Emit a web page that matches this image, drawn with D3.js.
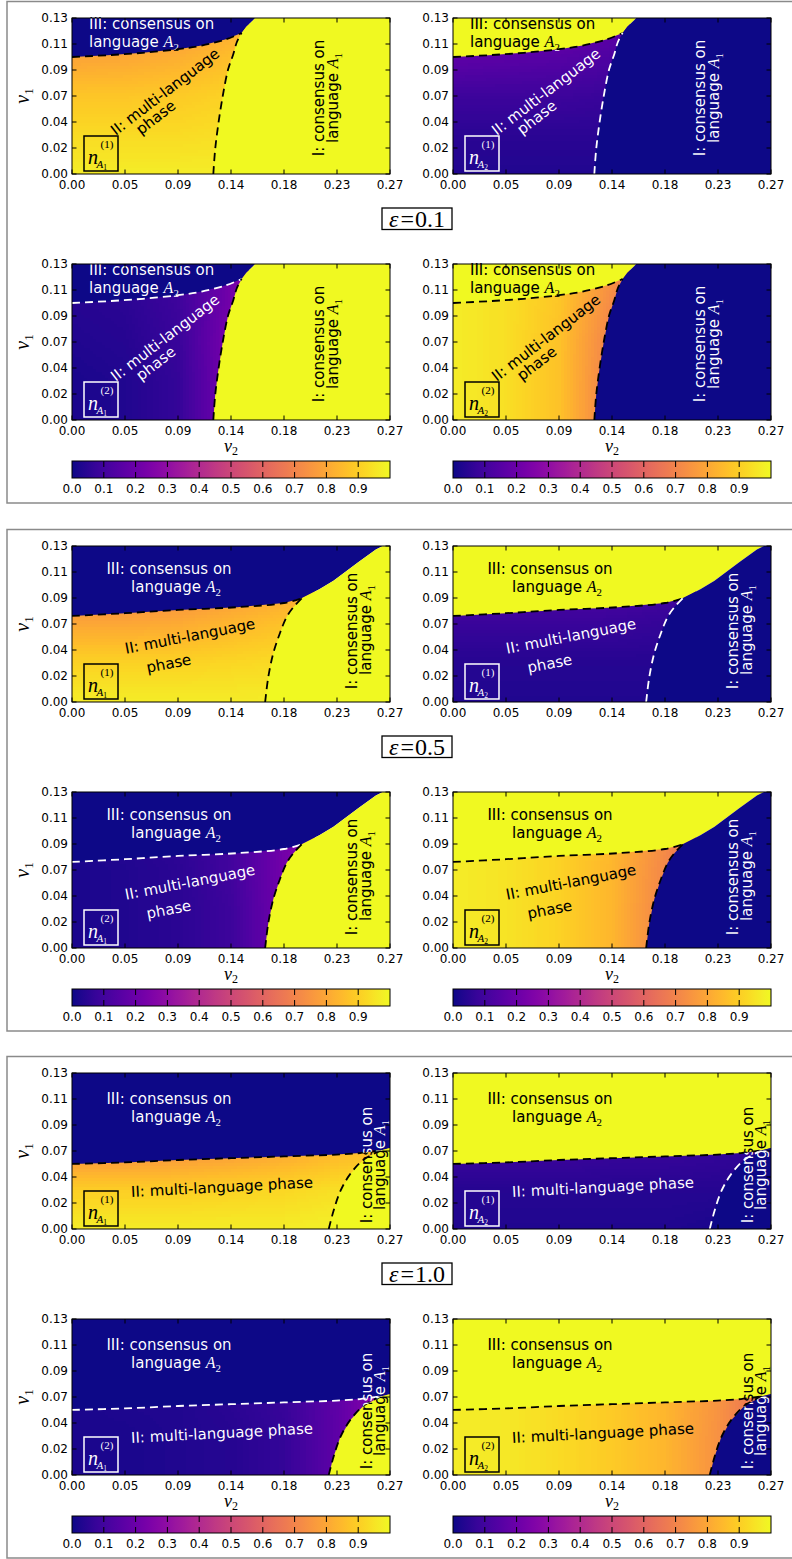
<!DOCTYPE html>
<html>
<head>
<meta charset="utf-8">
<script src="https://cdn.jsdelivr.net/npm/d3@7/dist/d3.min.js"></script>
<style>
html,body{margin:0;padding:0;background:#fff;}
svg{display:block;}
</style>
</head>
<body>
<svg id="chart" width="792" height="1559"></svg>
<script>
// ================= DATA =================
const NU2_MAX = 0.27, NU1_MAX = 0.13;
const xTickLabels = ["0.00","0.05","0.09","0.14","0.18","0.23","0.27"];
const yTickLabels = ["0.00","0.02","0.04","0.07","0.09","0.11","0.13"];
const cbTickLabels = ["0.0","0.1","0.2","0.3","0.4","0.5","0.6","0.7","0.8","0.9"];
const epsilonLabels = ["0.1","0.5","1.0"];

// sampling grid of the phase-II field (nu2 columns, nu1 rows)
const gridNu2 = [0, 0.045, 0.09, 0.135, 0.18, 0.225, 0.27];
const gridNu1 = [0, 0.0325, 0.065, 0.0975, 0.13];

// phase boundaries [nu2, nu1]: II/III, I/II (from bottom to triple point), I/III
const b23_e01 = [[0,0.0975],[0.03,0.099],[0.06,0.101],[0.09,0.104],[0.11,0.107],[0.13,0.112],[0.144,0.1175]];
const b12_e01 = [[0.12,0],[0.1215,0.02],[0.124,0.04],[0.128,0.065],[0.1325,0.087],[0.137,0.10],[0.140,0.11],[0.144,0.1175]];
const b13_e01 = [[0.144,0.1175],[0.148,0.1228],[0.154,0.1283],[0.1555,0.13]];

const b23_e05 = [[0,0.0717],[0.045,0.074],[0.09,0.0767],[0.14,0.079],[0.18,0.0825],[0.195,0.0864]];
const b12_e05 = [[0.164,0],[0.1667,0.021],[0.171,0.041],[0.1766,0.0575],[0.1823,0.071],[0.188,0.079],[0.195,0.0864]];
const b13_e05 = [[0.195,0.0864],[0.21,0.094],[0.222,0.101],[0.243,0.1165],[0.258,0.127],[0.264,0.13]];

const b23_e10 = [[0,0.0542],[0.045,0.0555],[0.09,0.0575],[0.135,0.059],[0.18,0.0605],[0.2245,0.062],[0.2445,0.0633],[0.262,0.0655]];
const b12_e10 = [[0.218,0],[0.2219,0.0145],[0.2276,0.031],[0.236,0.0455],[0.2473,0.0575],[0.262,0.0655]];
const b13_e10 = [[0.262,0.0655],[0.27,0.0675]];

// fraction values in phase II (rows: nu1 = gridNu1, cols: nu2 = gridNu2)
const nA1_1_e01 = [
  [0.97,0.97,0.97,0.97,0.97,0.97,0.97],
  [0.93,0.93,0.93,0.94,0.95,0.95,0.95],
  [0.88,0.88,0.89,0.91,0.92,0.92,0.92],
  [0.79,0.80,0.82,0.86,0.88,0.88,0.88],
  [0.70,0.71,0.74,0.80,0.84,0.84,0.84]];
const nA2_1_e01 = [
  [0.03,0.03,0.03,0.03,0.03,0.03,0.03],
  [0.05,0.05,0.05,0.05,0.05,0.05,0.05],
  [0.09,0.09,0.09,0.08,0.07,0.07,0.07],
  [0.17,0.16,0.15,0.13,0.11,0.11,0.11],
  [0.25,0.24,0.22,0.18,0.15,0.15,0.15]];
const nA1_2_e01 = [
  [0.02,0.03,0.07,0.24,0.40,0.40,0.40],
  [0.02,0.03,0.07,0.24,0.40,0.40,0.40],
  [0.03,0.04,0.08,0.24,0.40,0.40,0.40],
  [0.04,0.05,0.09,0.22,0.35,0.35,0.35],
  [0.05,0.06,0.10,0.22,0.35,0.35,0.35]];
const nA2_2_e01 = [
  [0.97,0.94,0.87,0.68,0.55,0.55,0.55],
  [0.97,0.94,0.87,0.68,0.55,0.55,0.55],
  [0.97,0.94,0.87,0.69,0.55,0.55,0.55],
  [0.97,0.94,0.88,0.72,0.60,0.60,0.60],
  [0.97,0.95,0.89,0.75,0.60,0.60,0.60]];

const nA1_1_e05 = [
  [0.97,0.97,0.97,0.97,0.97,0.97,0.97],
  [0.91,0.91,0.91,0.92,0.93,0.93,0.93],
  [0.80,0.80,0.81,0.84,0.87,0.87,0.87],
  [0.68,0.69,0.71,0.75,0.79,0.79,0.79],
  [0.58,0.59,0.61,0.66,0.72,0.72,0.72]];
const nA2_1_e05 = [
  [0.03,0.03,0.03,0.03,0.03,0.03,0.03],
  [0.04,0.04,0.04,0.04,0.04,0.04,0.04],
  [0.08,0.08,0.08,0.08,0.07,0.07,0.07],
  [0.15,0.15,0.14,0.13,0.11,0.11,0.11],
  [0.22,0.22,0.21,0.19,0.16,0.16,0.16]];
const nA1_2_e05 = [
  [0.02,0.03,0.05,0.09,0.22,0.35,0.45],
  [0.02,0.03,0.05,0.09,0.22,0.35,0.45],
  [0.02,0.03,0.05,0.10,0.22,0.35,0.45],
  [0.03,0.04,0.06,0.10,0.22,0.35,0.45],
  [0.03,0.04,0.06,0.10,0.22,0.35,0.45]];
const nA2_2_e05 = [
  [0.97,0.95,0.91,0.84,0.70,0.55,0.45],
  [0.97,0.95,0.91,0.84,0.70,0.55,0.45],
  [0.97,0.95,0.91,0.84,0.71,0.55,0.45],
  [0.97,0.95,0.91,0.85,0.73,0.55,0.45],
  [0.97,0.95,0.91,0.85,0.73,0.55,0.45]];

const nA1_1_e10 = [
  [0.97,0.97,0.97,0.97,0.97,0.98,0.98],
  [0.90,0.90,0.90,0.91,0.92,0.94,0.95],
  [0.74,0.74,0.75,0.77,0.80,0.84,0.87],
  [0.60,0.60,0.61,0.63,0.66,0.70,0.74],
  [0.50,0.50,0.51,0.53,0.56,0.60,0.65]];
const nA2_1_e10 = [
  [0.03,0.03,0.03,0.03,0.03,0.02,0.02],
  [0.04,0.04,0.04,0.04,0.04,0.04,0.04],
  [0.09,0.09,0.09,0.08,0.08,0.07,0.06],
  [0.15,0.15,0.14,0.13,0.12,0.11,0.10],
  [0.22,0.22,0.21,0.20,0.18,0.16,0.15]];
const nA1_2_e10 = [
  [0.02,0.02,0.03,0.04,0.07,0.17,0.30],
  [0.02,0.02,0.03,0.04,0.07,0.17,0.30],
  [0.02,0.03,0.03,0.05,0.08,0.17,0.30],
  [0.03,0.03,0.04,0.05,0.08,0.17,0.30],
  [0.03,0.03,0.04,0.05,0.08,0.17,0.30]];
const nA2_2_e10 = [
  [0.97,0.96,0.93,0.89,0.84,0.74,0.60],
  [0.97,0.96,0.93,0.89,0.84,0.74,0.60],
  [0.97,0.96,0.93,0.89,0.84,0.75,0.62],
  [0.97,0.96,0.93,0.89,0.84,0.75,0.62],
  [0.97,0.96,0.93,0.89,0.84,0.75,0.62]];

// consensus values of each panel quantity in phase I and phase III
const panelDefs = [
  {key:"A1_1", col:0, row:0, phaseI:1, phaseIII:0, sup:"(1)", sub:"1"},
  {key:"A2_1", col:1, row:0, phaseI:0, phaseIII:1, sup:"(1)", sub:"2"},
  {key:"A1_2", col:0, row:1, phaseI:1, phaseIII:0, sup:"(2)", sub:"1"},
  {key:"A2_2", col:1, row:1, phaseI:0, phaseIII:1, sup:"(2)", sub:"2"}
];

// label texts
const txtIII1 = [["III: consensus on"]];
const txtIII2 = [["language "],["A","i"],["2","sub"]];
const txtII1 = [["II: multi-language"]];
const txtII2 = [["phase"]];
const txtIIfull = [["II: multi-language phase"]];
const txtI1 = [["I: consensus on"]];
const txtI2 = [["language "],["A","i"],["1","sub"]];

// ================= LAYOUT =================
const PX = [72, 453], PY = [18, 264], PW = 318, PH = 156, CELL = 3;
const groupOffsets = [0, 528, 1055];
const labelLayout = [
  [ {t:txtIII1, x:17, y:11, rot:0, anchor:"start"},
    {t:txtIII2, x:17, y:28.5, rot:0, anchor:"start"},
    {t:txtII1, x:93, y:73.7, rot:-37.5, c:true},
    {t:txtII2, x:83.7, y:99.3, rot:-37.5, c:true},
    {t:txtI1, x:247, y:80, rot:-90, c:true},
    {t:txtI2, x:261, y:80, rot:-90, c:true} ],
  [ {t:txtIII1, x:97, y:28, rot:0, anchor:"middle"},
    {t:txtIII2, x:104, y:46, rot:0, anchor:"middle"},
    {t:txtII1, x:118, y:90, rot:-11, c:true},
    {t:txtII2, x:96.7, y:117.3, rot:-11, c:true},
    {t:txtI1, x:280, y:85, rot:-90, c:true},
    {t:txtI2, x:293.7, y:84, rot:-90, c:true} ],
  [ {t:txtIII1, x:97, y:31, rot:0, anchor:"middle"},
    {t:txtIII2, x:104, y:49, rot:0, anchor:"middle"},
    {t:txtIIfull, x:150, y:114, rot:-3, c:true},
    {t:txtI1, x:294.7, y:92, rot:-90, c:true},
    {t:txtI2, x:308, y:92, rot:-90, c:true} ]
];

const groups = [
  {eps:epsilonLabels[0], bnd:{b23:b23_e01, b12:b12_e01, b13:b13_e01},
   fields:{A1_1:nA1_1_e01, A2_1:nA2_1_e01, A1_2:nA1_2_e01, A2_2:nA2_2_e01}},
  {eps:epsilonLabels[1], bnd:{b23:b23_e05, b12:b12_e05, b13:b13_e05},
   fields:{A1_1:nA1_1_e05, A2_1:nA2_1_e05, A1_2:nA1_2_e05, A2_2:nA2_2_e05}},
  {eps:epsilonLabels[2], bnd:{b23:b23_e10, b12:b12_e10, b13:b13_e10},
   fields:{A1_1:nA1_1_e10, A2_1:nA2_1_e10, A1_2:nA1_2_e10, A2_2:nA2_2_e10}}
];

const SANS = "'DejaVu Sans', 'Noto Sans', sans-serif";
const SERIF = "'Liberation Serif', 'DejaVu Serif', serif";

// ================= SCALES =================
const x = d3.scaleLinear().domain([0, NU2_MAX]).range([0, PW]);
const y = d3.scaleLinear().domain([0, NU1_MAX]).range([PH, 0]);
const color = d3.scaleSequential(d3.interpolatePlasma).domain([0, 1]);
const xTicks = xTickLabels.map((l, i) => i * NU2_MAX / (xTickLabels.length - 1));
const yTicks = yTickLabels.map((l, i) => i * NU1_MAX / (yTickLabels.length - 1));
const gxi = d3.scaleLinear().domain(gridNu2).range(d3.range(gridNu2.length)).clamp(true);
const gyi = d3.scaleLinear().domain(gridNu1).range(d3.range(gridNu1.length)).clamp(true);

function sample(f, a, b) {
  const fi = gxi(a), fj = gyi(b);
  const i0 = Math.min(Math.floor(fi), gridNu2.length - 2);
  const j0 = Math.min(Math.floor(fj), gridNu1.length - 2);
  const tx = fi - i0, ty = fj - j0;
  const v0 = f[j0][i0] * (1 - tx) + f[j0][i0 + 1] * tx;
  const v1 = f[j0 + 1][i0] * (1 - tx) + f[j0 + 1][i0 + 1] * tx;
  return v0 * (1 - ty) + v1 * ty;
}

const svg = d3.select("#chart");
const rootDefs = svg.append("defs");
let uid = 0;

function rich(textSel, parts, size) {
  parts.forEach(p => {
    const ts = textSel.append("tspan").text(p[0]);
    if (p[1] === "i") ts.attr("font-family", SERIF).attr("font-style", "italic").attr("font-size", size * 1.07);
    if (p[1] === "sub") ts.attr("font-family", SERIF).attr("font-size", size * 0.72).attr("dy", size * 0.28);
  });
}

const polyLine = d3.line().x(d => x(d[0])).y(d => y(d[1]));
const curveLine = d3.line().x(d => x(d[0])).y(d => y(d[1])).curve(d3.curveCatmullRom.alpha(0.5));

function drawPanel(parent, G, gi, P) {
  const id = "p" + (uid++);
  const g = parent.append("g").attr("transform", `translate(${PX[P.col]},${PY[P.row]})`);
  const field = G.fields[P.key];
  const {b23, b12, b13} = G.bnd;
  const exit = b13[b13.length - 1];
  const topExit = exit[1] >= NU1_MAX - 1e-9;
  const polyIII = [[0, NU1_MAX], ...b23, ...b13.slice(1), ...(topExit ? [] : [[NU2_MAX, NU1_MAX]])];
  const polyI = [...b12, ...b13.slice(1), ...(topExit ? [[NU2_MAX, NU1_MAX], [NU2_MAX, 0]] : [[NU2_MAX, 0]])];
  const polyII = [[0, 0], ...b23, ...b12.slice(0, -1).reverse()];
  const poly = d => polyLine(d) + "Z";

  const defs = g.append("defs");
  defs.append("clipPath").attr("id", id + "c").append("rect").attr("width", PW).attr("height", PH);
  const L1 = P.phaseI > 0.5, L3 = P.phaseIII > 0.5, L2 = d3.mean(field.flat()) > 0.5;
  const regs = [{p: polyI, L: L1}, {p: polyII, L: L2}, {p: polyIII, L: L3}];

  // a black-over-light / white-over-dark paint for labels, aligned to the panel
  let pk = 0;
  function contrastPaint(tx, ty, rot) {
    const pid = id + "pt" + (pk++);
    const pat = defs.append("pattern").attr("id", pid).attr("patternUnits", "userSpaceOnUse")
      .attr("x", 0).attr("y", 0).attr("width", PW).attr("height", PH)
      .attr("patternTransform", `rotate(${-rot}) translate(${-tx},${-ty})`);
    pat.selectAll("path").data(regs).join("path").attr("d", r => poly(r.p))
      .attr("fill", r => r.L ? "black" : "white").attr("stroke", r => r.L ? "black" : "white").attr("stroke-width", 0.6);
    return `url(#${pid})`;
  }

  const plot = g.append("g").attr("clip-path", `url(#${id}c)`);
  // phase II field
  const xmax = d3.max(b12, d => d[0]) + 0.012;
  const ymax = d3.max([...b23, ...b12], d => d[1]) + 0.008;
  const cells = [];
  for (let px = 0; px < PW; px += CELL) {
    for (let py = 0; py < PH; py += CELL) {
      const a = x.invert(px + CELL / 2), b = y.invert(py + CELL / 2);
      if (a <= xmax && b <= ymax) cells.push({px, py, v: sample(field, a, b)});
    }
  }
  plot.append("g").attr("shape-rendering", "crispEdges").selectAll("rect").data(cells).join("rect")
    .attr("x", d => d.px).attr("y", d => d.py).attr("width", CELL).attr("height", CELL)
    .attr("fill", d => color(d.v));
  // consensus phases
  plot.append("path").attr("d", poly(polyIII)).attr("fill", color(P.phaseIII));
  plot.append("path").attr("d", poly(polyI)).attr("fill", color(P.phaseI));
  // dashed boundaries
  plot.append("path").attr("d", curveLine(b23)).attr("fill", "none")
    .attr("stroke", (!L2 && !L3) ? "white" : "black").attr("stroke-width", 1.8).attr("stroke-dasharray", "8,5");
  plot.append("path").attr("d", curveLine(b12)).attr("fill", "none")
    .attr("stroke", (!L1 && !L2) ? "white" : "black").attr("stroke-width", 1.8).attr("stroke-dasharray", "8,5");

  // phase labels
  labelLayout[gi].forEach(a => {
    const t = g.append("text")
      .attr("transform", `translate(${a.x},${a.y}) rotate(${a.rot})`)
      .attr("text-anchor", a.c ? "middle" : a.anchor)
      .attr("font-family", SANS).attr("font-size", 15)
      .attr("fill", contrastPaint(a.x, a.y, a.rot));
    if (a.c) t.attr("dy", "0.35em");
    rich(t, a.t, 15);
  });
  // quantity box
  const boxPaint = contrastPaint(0, 0, 0);
  g.append("rect").attr("x", 12).attr("y", 118).attr("width", 34).attr("height", 35)
    .attr("fill", "none").attr("stroke", boxPaint).attr("stroke-width", 1.5);
  const nt = g.append("text").attr("x", 16).attr("y", 145.5).attr("font-family", SERIF)
    .attr("fill", boxPaint);
  nt.append("tspan").attr("font-style", "italic").attr("font-size", 20).text("n");
  nt.append("tspan").attr("x", 28.5).attr("y", 130).attr("font-size", 11).text(P.sup);
  nt.append("tspan").attr("x", 24.5).attr("y", 150).attr("font-size", 11).attr("font-style", "italic").text("A");
  nt.append("tspan").attr("font-size", 7.5).attr("dy", 2).text(P.sub);

  // frame
  g.append("rect").attr("width", PW).attr("height", PH).attr("fill", "none")
    .attr("stroke", "black").attr("stroke-width", 1);
  // ticks (inward, all sides)
  const tk = g.append("g").attr("stroke", "black").attr("stroke-width", 1);
  tk.selectAll(".xb").data(xTicks).join("line").attr("x1", d => x(d)).attr("x2", d => x(d)).attr("y1", PH).attr("y2", PH - 4.5);
  tk.selectAll(".xt").data(xTicks).join("line").attr("x1", d => x(d)).attr("x2", d => x(d)).attr("y1", 0).attr("y2", 4.5);
  tk.selectAll(".yl").data(yTicks).join("line").attr("y1", d => y(d)).attr("y2", d => y(d)).attr("x1", 0).attr("x2", 4.5);
  tk.selectAll(".yr").data(yTicks).join("line").attr("y1", d => y(d)).attr("y2", d => y(d)).attr("x1", PW).attr("x2", PW - 4.5);
  // tick labels
  g.append("g").selectAll("text").data(xTicks).join("text")
    .attr("x", d => x(d)).attr("y", PH + 14.5).attr("text-anchor", "middle")
    .attr("font-family", SANS).attr("font-size", 12).text((d, i) => xTickLabels[i]);
  g.append("g").selectAll("text").data(yTicks).join("text")
    .attr("x", -4).attr("y", d => y(d)).attr("dy", "0.36em").attr("text-anchor", "end")
    .attr("font-family", SANS).attr("font-size", 12).text((d, i) => yTickLabels[i]);
  // axis labels
  if (P.col === 0) {
    const t = g.append("text").attr("transform", `translate(-43.5,${PH / 2}) rotate(-90)`)
      .attr("text-anchor", "middle").attr("font-family", SERIF).attr("font-size", 20);
    t.append("tspan").attr("font-style", "italic").text("\u03bd");
    t.append("tspan").attr("font-size", 13).attr("dy", 4).text("1");
  }
  if (P.row === 1) {
    const t = g.append("text").attr("transform", `translate(${PW / 2},${PH + 32})`)
      .attr("text-anchor", "middle").attr("font-family", SERIF).attr("font-size", 18);
    t.append("tspan").attr("font-style", "italic").text("\u03bd");
    t.append("tspan").attr("font-size", 12).attr("dy", 3).text("2");
  }
}

function drawColorbar(parent, x0, y0) {
  const id = "cb" + (uid++);
  const cx = d3.scaleLinear().domain([0, 1]).range([x0, x0 + PW]);
  const grad = rootDefs.append("linearGradient").attr("id", id).attr("x1", "0%").attr("x2", "100%").attr("y1", "0%").attr("y2", "0%");
  grad.selectAll("stop").data(d3.range(0, 1.0001, 0.025)).join("stop")
    .attr("offset", d => (d * 100) + "%").attr("stop-color", d => color(d));
  const cb = parent.append("g");
  cb.append("rect").attr("x", x0).attr("y", y0).attr("width", PW).attr("height", 17)
    .attr("fill", `url(#${id})`).attr("stroke", "black").attr("stroke-width", 1);
  const ticks = cbTickLabels.map((l, i) => i / 10);
  cb.selectAll(".tt").data(ticks.slice(1)).join("line").attr("x1", d => cx(d)).attr("x2", d => cx(d))
    .attr("y1", y0).attr("y2", y0 + 6).attr("stroke", "black");
  cb.selectAll(".tb").data(ticks.slice(1)).join("line").attr("x1", d => cx(d)).attr("x2", d => cx(d))
    .attr("y1", y0 + 17).attr("y2", y0 + 11).attr("stroke", "black");
  cb.selectAll("text").data(ticks).join("text").attr("x", d => cx(d)).attr("y", y0 + 32)
    .attr("text-anchor", "middle").attr("font-family", SANS).attr("font-size", 12)
    .text((d, i) => cbTickLabels[i]);
}

groups.forEach((G, gi) => {
  const gG = svg.append("g").attr("transform", `translate(0,${groupOffsets[gi]})`);
  gG.append("rect").attr("x", 7).attr("y", 1.5).attr("width", 820).attr("height", 501.5)
    .attr("fill", "none").attr("stroke", "#8a8a8a").attr("stroke-width", 1.5);
  panelDefs.forEach(P => drawPanel(gG, G, gi, P));
  // epsilon label
  gG.append("rect").attr("x", 382).attr("y", 208).attr("width", 70).attr("height", 21.5)
    .attr("fill", "white").attr("stroke", "black").attr("stroke-width", 1.3);
  const et = gG.append("text").attr("x", 417).attr("y", 227).attr("text-anchor", "middle")
    .attr("font-family", SERIF).attr("font-size", 24);
  et.append("tspan").attr("font-style", "italic").text("\u03b5");
  et.append("tspan").attr("dx", 2).text("=");
  et.append("tspan").attr("dx", 1).text(G.eps);
  PX.forEach(px => drawColorbar(gG, px, 461));
});
</script>
</body>
</html>
